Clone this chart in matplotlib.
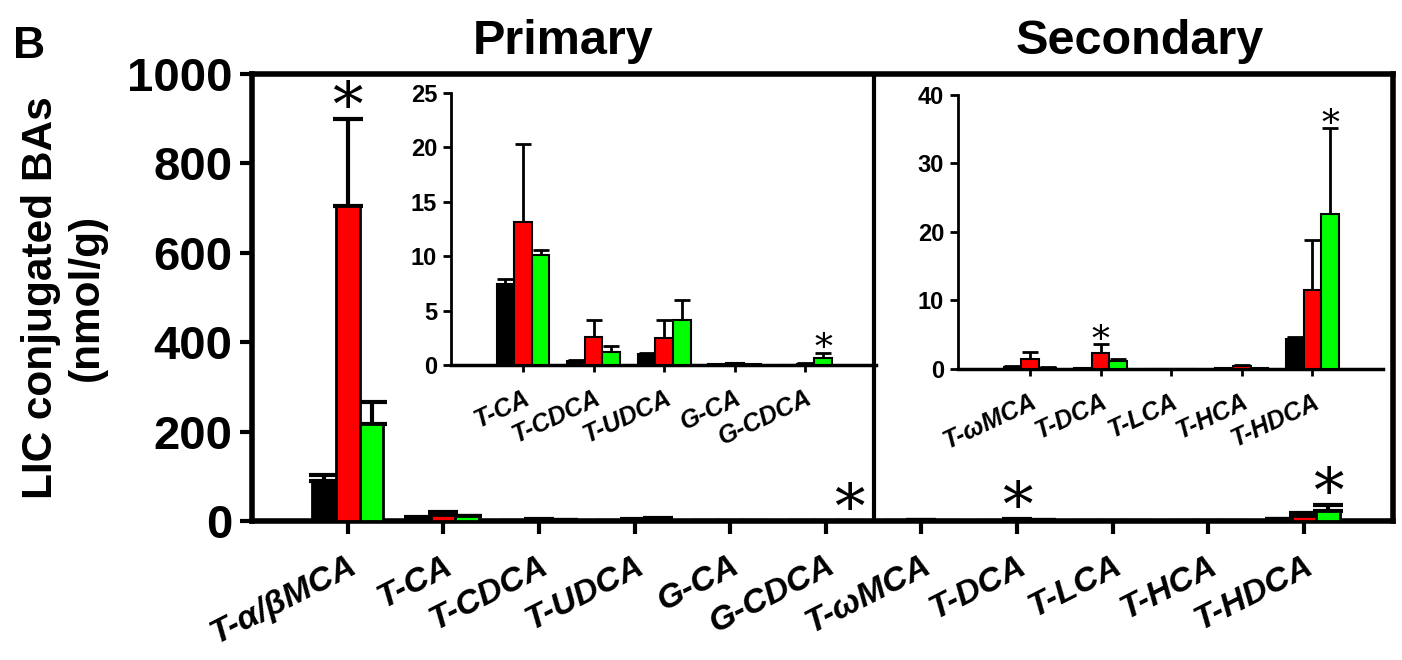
import numpy as np
import matplotlib
matplotlib.use("Agg")
import matplotlib.pyplot as plt
import matplotlib.transforms as mtrans

plt.rcParams['font.family'] = ['Liberation Sans', 'DejaVu Sans']
plt.rcParams['font.weight'] = 'bold'

# categories
primary = ['T-α/βMCA', 'T-CA', 'T-CDCA', 'T-UDCA', 'G-CA', 'G-CDCA']
secondary = ['T-ωMCA', 'T-DCA', 'T-LCA', 'T-HCA', 'T-HDCA']
labels = primary + secondary

# mean values (nmol/g) for the three groups
black_vals = [90, 7.4, 0.4, 1.0, 0.05, 0.02, 0.3, 0.1, 0.02, 0.1, 4.4]
red_vals = [705, 13.1, 2.6, 2.5, 0.15, 0.1, 1.5, 2.4, 0.02, 0.4, 11.5]
green_vals = [217, 10.1, 1.2, 4.1, 0.05, 0.6, 0.2, 1.2, 0.02, 0.1, 22.6]

# upper error (SD)
black_err = [12, 0.5, 0.1, 0.1, 0.02, 0.02, 0.1, 0.05, 0.01, 0.05, 0.3]
red_err = [195, 7.2, 1.5, 1.6, 0.05, 0.05, 1.0, 1.25, 0.01, 0.2, 7.3]
green_err = [49, 0.5, 0.5, 1.9, 0.02, 0.5, 0.1, 0.2, 0.01, 0.05, 12.6]

# significance marks: (category index, group index)
stars = [(0, 1), (5, 2), (7, 1), (10, 2)]

colors = ['black', 'red', '#00ff00']
width = 0.25
vals = [black_vals, red_vals, green_vals]
errs = [black_err, red_err, green_err]


def draw_bars(ax, idx, lw, elw, cap):
    x = np.arange(len(idx))
    for g in range(3):
        v = [vals[g][i] for i in idx]
        e = [errs[g][i] for i in idx]
        ax.bar(x + (g - 1) * width, v, width, color=colors[g], edgecolor='black',
               linewidth=lw, zorder=3)
        ax.errorbar(x + (g - 1) * width, v, yerr=[np.zeros(len(v)), e], fmt='none',
                    ecolor='black', elinewidth=elw, capsize=cap, capthick=elw, zorder=2)
    return x


def add_stars(ax, idx, size, gap):
    for c, g in stars:
        if c in idx:
            k = idx.index(c)
            top = vals[g][c] + errs[g][c]
            ax.text(k + (g - 1) * width, top + gap, '*', ha='center', va='bottom',
                    fontsize=size, family='DejaVu Serif', fontweight='normal', zorder=5)


def shift_labels(ax, dx_pt):
    off = mtrans.ScaledTranslation(dx_pt / 72, 0, fig.dpi_scale_trans)
    for lab in ax.get_xticklabels():
        lab.set_transform(lab.get_transform() + off)


fig = plt.figure(figsize=(14.02, 6.6), dpi=100)

# main axes
ax = fig.add_axes([0.1797, 0.2106, 0.8139, 0.6773])
idx_all = list(range(len(labels)))
x = draw_bars(ax, idx_all, 2, 3, 11)
add_stars(ax, idx_all, 44, -45)
ax.set_xlim(-1, 10.93)
ax.set_ylim(0, 1000)
ax.set_yticks(range(0, 1001, 200))
ax.set_xticks(x)
ax.set_xticklabels(labels, rotation=27, ha='right', va='top', rotation_mode='anchor',
                   fontsize=24.5, fontstyle='italic', fontweight='bold')
shift_labels(ax, 8)
ax.tick_params(axis='y', labelsize=34, width=3, length=9, direction='out', pad=5)
ax.tick_params(axis='x', width=3, length=9, direction='out', pad=12)
for lab in ax.get_yticklabels():
    lab.set_fontweight('bold')
for s in ax.spines.values():
    s.set_linewidth(4)
ax.axvline(5.5, color='black', linewidth=3, zorder=1)
ax.set_ylabel('LIC conjugated BAs\n(nmol/g)', fontsize=30.5, fontweight='bold')
ax.yaxis.set_label_coords(-0.127, 0.5)

fig.text(0.4016, 0.937, 'Primary', ha='center', va='center', fontsize=35, fontweight='bold')
fig.text(0.813, 0.937, 'Secondary', ha='center', va='center', fontsize=35, fontweight='bold')
fig.text(0.021, 0.93, 'B', ha='center', va='center', fontsize=32, fontweight='bold')

# insets: primary without T-α/βMCA, and secondary
ins1 = fig.add_axes([0.3217, 0.4470, 0.3031, 0.4121])
ins2 = fig.add_axes([0.6833, 0.4409, 0.3031, 0.4152])
idx1 = [1, 2, 3, 4, 5]
idx2 = [6, 7, 8, 9, 10]

for a, idx, ymax, step, gap in [(ins1, idx1, 25, 5, -1.2), (ins2, idx2, 40, 10, -2.0)]:
    xi = draw_bars(a, idx, 1.5, 2, 6)
    add_stars(a, idx, 26, gap)
    a.set_xlim(-1.02, 5.0)
    a.set_ylim(0, ymax)
    a.set_yticks(np.arange(0, ymax + 1, step))
    a.set_xticks(xi)
    a.set_xticklabels([labels[i] for i in idx], rotation=25, ha='right', va='top',
                      rotation_mode='anchor', fontsize=18, fontstyle='italic',
                      fontweight='bold')
    shift_labels(a, 5)
    a.tick_params(axis='y', labelsize=17, width=2, length=6, pad=4)
    a.tick_params(axis='x', width=2, length=5, pad=10)
    for lab in a.get_yticklabels():
        lab.set_fontweight('bold')
    a.spines['top'].set_visible(False)
    a.spines['right'].set_visible(False)
    a.spines['left'].set_linewidth(2)
    a.spines['bottom'].set_linewidth(2.5)
    a.patch.set_alpha(0)

fig.savefig('out.png', dpi=100)
